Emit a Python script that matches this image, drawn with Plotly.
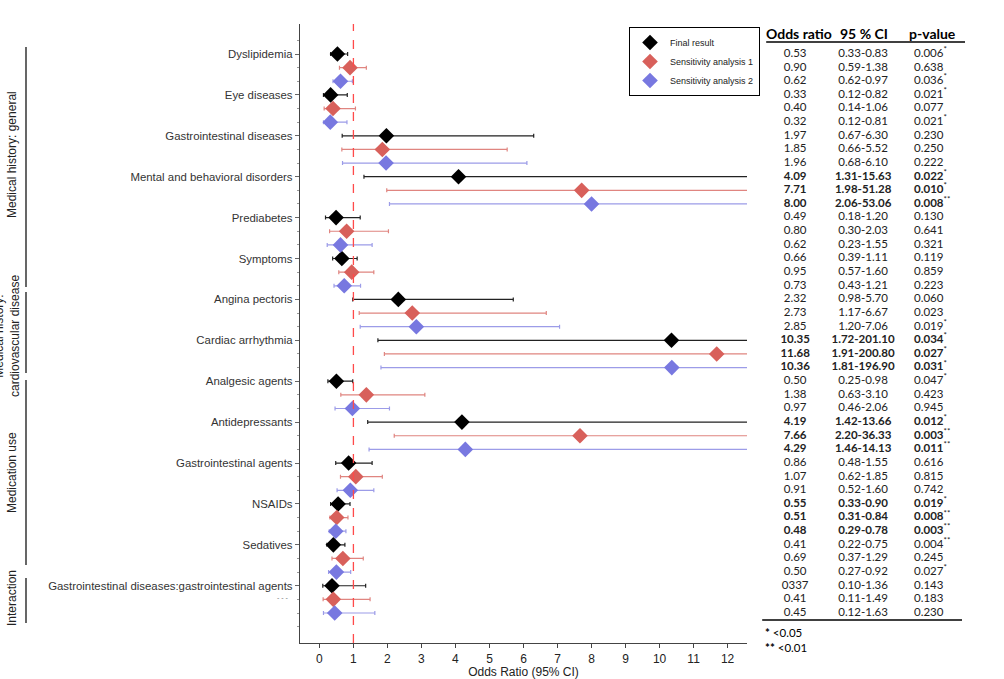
import plotly.graph_objects as go

categories = ["Dyslipidemia", "Eye diseases", "Gastrointestinal diseases",
              "Mental and behavioral disorders", "Prediabetes", "Symptoms",
              "Angina pectoris", "Cardiac arrhythmia", "Analgesic agents",
              "Antidepressants", "Gastrointestinal agents", "NSAIDs", "Sedatives",
              "Gastrointestinal diseases:gastrointestinal agents"]

or_final = [0.53, 0.33, 1.97, 4.09, 0.49, 0.66, 2.32, 10.35, 0.50, 4.19, 0.86, 0.55, 0.41, 0.37]
lo_final = [0.33, 0.12, 0.67, 1.31, 0.18, 0.39, 0.98, 1.72, 0.25, 1.42, 0.48, 0.33, 0.22, 0.10]
hi_final = [0.83, 0.82, 6.30, 15.63, 1.20, 1.11, 5.70, 201.10, 0.98, 13.66, 1.55, 0.90, 0.75, 1.36]

or_s1 = [0.90, 0.40, 1.85, 7.71, 0.80, 0.95, 2.73, 11.68, 1.38, 7.66, 1.07, 0.51, 0.69, 0.41]
lo_s1 = [0.59, 0.14, 0.66, 1.98, 0.30, 0.57, 1.17, 1.91, 0.63, 2.20, 0.62, 0.31, 0.37, 0.11]
hi_s1 = [1.38, 1.06, 5.52, 51.28, 2.03, 1.60, 6.67, 200.80, 3.10, 36.33, 1.85, 0.84, 1.29, 1.49]

or_s2 = [0.62, 0.32, 1.96, 8.00, 0.62, 0.73, 2.85, 10.36, 0.97, 4.29, 0.91, 0.48, 0.50, 0.45]
lo_s2 = [0.40, 0.12, 0.68, 2.06, 0.23, 0.43, 1.20, 1.81, 0.46, 1.46, 0.52, 0.29, 0.27, 0.12]
hi_s2 = [0.97, 0.81, 6.10, 53.06, 1.55, 1.21, 7.06, 196.90, 2.06, 14.13, 1.60, 0.78, 0.92, 1.63]

table_or = ["0.53", "0.90", "0.62", "0.33", "0.40", "0.32", "1.97", "1.85", "1.96",
            "4.09", "7.71", "8.00", "0.49", "0.80", "0.62", "0.66", "0.95", "0.73",
            "2.32", "2.73", "2.85", "10.35", "11.68", "10.36", "0.50", "1.38", "0.97",
            "4.19", "7.66", "4.29", "0.86", "1.07", "0.91", "0.55", "0.51", "0.48",
            "0.41", "0.69", "0.50", "0337", "0.41", "0.45"]
table_ci = ["0.33-0.83", "0.59-1.38", "0.62-0.97", "0.12-0.82", "0.14-1.06", "0.12-0.81",
            "0.67-6.30", "0.66-5.52", "0.68-6.10", "1.31-15.63", "1.98-51.28", "2.06-53.06",
            "0.18-1.20", "0.30-2.03", "0.23-1.55", "0.39-1.11", "0.57-1.60", "0.43-1.21",
            "0.98-5.70", "1.17-6.67", "1.20-7.06", "1.72-201.10", "1.91-200.80", "1.81-196.90",
            "0.25-0.98", "0.63-3.10", "0.46-2.06", "1.42-13.66", "2.20-36.33", "1.46-14.13",
            "0.48-1.55", "0.62-1.85", "0.52-1.60", "0.33-0.90", "0.31-0.84", "0.29-0.78",
            "0.22-0.75", "0.37-1.29", "0.27-0.92", "0.10-1.36", "0.11-1.49", "0.12-1.63"]
table_p = ["0.006", "0.638", "0.036", "0.021", "0.077", "0.021", "0.230", "0.250", "0.222",
           "0.022", "0.010", "0.008", "0.130", "0.641", "0.321", "0.119", "0.859", "0.223",
           "0.060", "0.023", "0.019", "0.034", "0.027", "0.031", "0.047", "0.423", "0.945",
           "0.012", "0.003", "0.011", "0.616", "0.815", "0.742", "0.019", "0.008", "0.003",
           "0.004", "0.245", "0.027", "0.143", "0.183", "0.230"]
table_stars = ["*", "", "*", "*", "", "*", "", "", "", "*", "*", "**", "", "", "", "", "", "",
               "", "", "*", "*", "*", "*", "*", "", "", "*", "**", "**", "", "", "", "*", "**", "**",
               "**", "", "*", "", "", ""]
bold_categories = ["Mental and behavioral disorders", "Cardiac arrhythmia", "Antidepressants", "NSAIDs"]

groups = ["Medical history: general", "Medical history:<br>cardiovascular disease",
          "Medication use", "Interaction"]

FONT = "Liberation Sans, Arial, sans-serif"
TFONT = "Lato, Open Sans, sans-serif"

n = len(categories)
y_final = [3 * k for k in range(n)]
y_s1 = [3 * k + 1 for k in range(n)]
y_s2 = [3 * k + 2 for k in range(n)]

fig = go.Figure()

series = [
    ("Final result", or_final, lo_final, hi_final, y_final, "#000000", "#222222"),
    ("Sensitivity analysis 1", or_s1, lo_s1, hi_s1, y_s1, "#D8605B", "#E08580"),
    ("Sensitivity analysis 2", or_s2, lo_s2, hi_s2, y_s2, "#7878E0", "#9C9CE8"),
]
for name, o, lo, hi, yy, mc, ec in series:
    fig.add_trace(go.Scatter(
        x=o, y=yy, mode="markers", name=name,
        marker=dict(symbol="diamond", size=12, color=mc, line=dict(width=0)),
        error_x=dict(type="data", symmetric=False,
                     array=[h - v for h, v in zip(hi, o)],
                     arrayminus=[v - l for v, l in zip(o, lo)],
                     color=ec, thickness=1.2, width=2),
        xaxis="x", yaxis="y",
    ))

rows = list(range(3 * n))
bold_rows = set()
for k, c in enumerate(categories):
    if c in bold_categories:
        bold_rows.update([3 * k, 3 * k + 1, 3 * k + 2])

def b(s, i):
    return f"<b>{s}</b>" if i in bold_rows else s

or_txt = [b(s, i) for i, s in enumerate(table_or)]
ci_txt = [b(s, i) for i, s in enumerate(table_ci)]
p_txt = [b(s, i) + (f"<sup>{st}</sup>" if st else "") for i, (s, st) in enumerate(zip(table_p, table_stars))]

tf = dict(family=TFONT, size=11.5, color="#222")
fig.add_trace(go.Scatter(x=[795] * len(rows), y=rows, mode="text", text=or_txt,
                         textposition="middle center", showlegend=False, hoverinfo="skip",
                         textfont=tf, xaxis="x2", yaxis="y", cliponaxis=False))
fig.add_trace(go.Scatter(x=[863] * len(rows), y=rows, mode="text", text=ci_txt,
                         textposition="middle center", showlegend=False, hoverinfo="skip",
                         textfont=tf, xaxis="x2", yaxis="y", cliponaxis=False))
fig.add_trace(go.Scatter(x=[914] * len(rows), y=rows, mode="text", text=p_txt,
                         textposition="middle right", showlegend=False, hoverinfo="skip",
                         textfont=tf, xaxis="x2", yaxis="y", cliponaxis=False))

W, H = 1004, 679
L, T, B = 300, 24, 36
PR = 747
pw = W - L
ph = H - T - B

def px(xp):
    return (xp - L) / pw

def py(yp):
    return (H - B - yp) / ph

ann = []
hdr = dict(xref="x2", yref="paper", showarrow=False, xanchor="center", yanchor="middle",
           font=dict(family=TFONT, size=14, color="#000"))
ann.append(dict(x=799, y=py(34), text="<b>Odds ratio</b>", **hdr))
ann.append(dict(x=864, y=py(34), text="<b>95 % CI</b>", **hdr))
ann.append(dict(x=932, y=py(34), text="<b>p-value</b>", **hdr))
ann.append(dict(x=763, y=py(632), xanchor="left", yanchor="middle", text="<b>*</b> <0.05",
                xref="x2", yref="paper", showarrow=False,
                font=dict(family=TFONT, size=11.5, color="#000")))
ann.append(dict(x=763, y=py(647), xanchor="left", yanchor="middle", text="<b>**</b> <0.01",
                xref="x2", yref="paper", showarrow=False,
                font=dict(family=TFONT, size=11.5, color="#000")))

group_spans = [(47, 287, 12, 155), (292, 373, 7, 336), (380, 565, 12, 473), (578, 623, 12, 598)]
shapes = []
for g, (y0, y1, tx, ty) in zip(groups, group_spans):
    shapes.append(dict(type="line", xref="paper", yref="paper", x0=px(26), x1=px(26),
                       y0=py(y0), y1=py(y1), line=dict(color="#000", width=1.2)))
    ann.append(dict(x=px(tx), y=py(ty), xref="paper", yref="paper", text=g, textangle=-90,
                    xanchor="center", yanchor="middle", showarrow=False,
                    font=dict(family=FONT, size=12, color="#222")))

ann.append(dict(x=px(291), y=py(597), xref="paper", yref="paper", text="- - -", xanchor="right",
                yanchor="middle", showarrow=False, font=dict(family=FONT, size=7, color="#777")))

shapes.append(dict(type="line", xref="x2", yref="paper", x0=766, x1=965, y0=py(42), y1=py(42),
                   line=dict(color="#000", width=1.5)))
shapes.append(dict(type="line", xref="x2", yref="paper", x0=762, x1=962, y0=py(620), y1=py(620),
                   line=dict(color="#000", width=1.5)))
shapes.append(dict(type="line", xref="x", yref="paper", x0=1, x1=1, y0=0, y1=1,
                   line=dict(color="#FF4A4A", width=1.3, dash="dash")))

fig.update_layout(
    width=W, height=H,
    margin=dict(l=L, r=0, t=T, b=B, autoexpand=False),
    plot_bgcolor="white", paper_bgcolor="white",
    font=dict(family=FONT, size=12, color="#222"),
    xaxis=dict(domain=[0, px(PR)], range=[-0.57, 12.57], tickvals=list(range(13)),
               ticks="outside", ticklen=4, tickcolor="#444", showline=True, linecolor="#444",
               linewidth=1.3, showgrid=False, zeroline=False, automargin=False,
               title=dict(text="Odds Ratio (95% CI)", font=dict(size=12), standoff=0),
               tickfont=dict(size=12, color="#222")),
    xaxis2=dict(domain=[px(PR) + 0.001, 1], range=[PR + 0.5, W], visible=False,
                anchor="y", showgrid=False, zeroline=False),
    yaxis=dict(range=[43.2, -2.2], tickvals=y_final, ticktext=categories, ticks="outside",
               ticklen=4, tickcolor="#666", showline=True, linecolor="#444", linewidth=1.3,
               showgrid=False, zeroline=False, tickfont=dict(size=11.4, color="#333"),
               automargin=False,
               minor=dict(tickvals=list(range(-1, 43)), ticks="outside", ticklen=2, tickcolor="#999")),
    legend=dict(x=px(629), y=py(27), xanchor="left", yanchor="top", bordercolor="#000",
                borderwidth=1, bgcolor="white", font=dict(size=9, family=FONT, color="#222"),
                tracegroupgap=0, itemsizing="constant", itemwidth=30),
    annotations=ann, shapes=shapes, showlegend=True,
)

fig.write_html("out.html", config={"displayModeBar": False},
               post_script="document.body.style.margin='0';document.body.style.padding='0';")
